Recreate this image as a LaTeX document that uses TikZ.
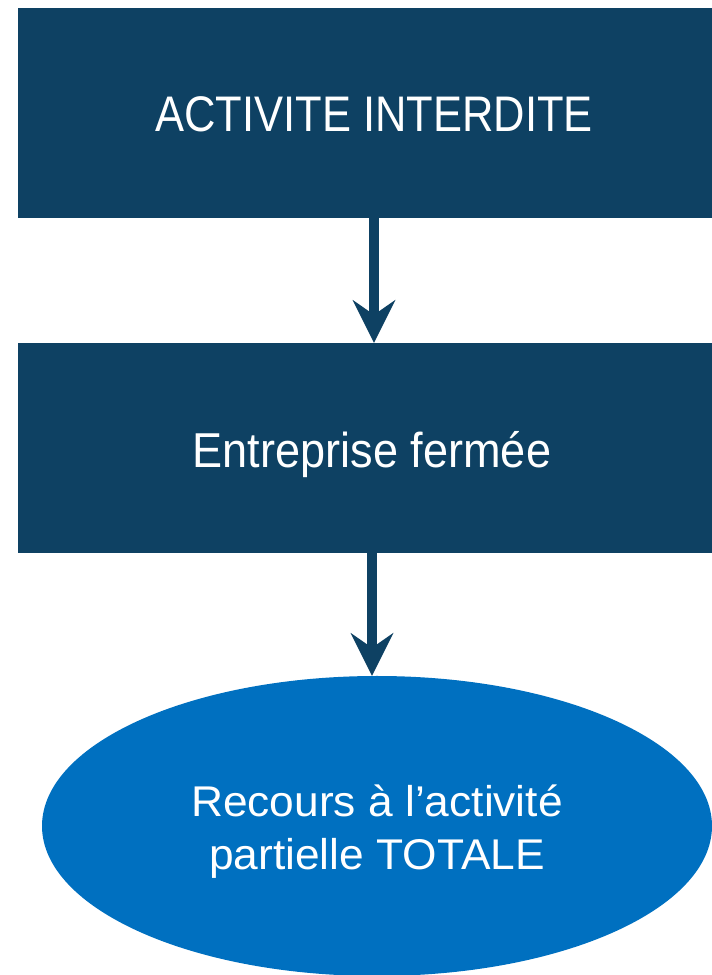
\documentclass[tikz,border=0pt]{standalone}
\usepackage{fontspec}
\setmainfont{Liberation Sans}
\newfontfamily\fonta{Liberation Sans}[FakeStretch=0.87]
\newfontfamily\fontb{Liberation Sans}[FakeStretch=0.92]
\newfontfamily\fontc{Liberation Sans}[FakeStretch=1.03]
\usetikzlibrary{arrows.meta,shapes.geometric,calc}
\definecolor{navy}{HTML}{0E4163}
\definecolor{blu}{HTML}{0070C0}
\begin{document}
\begin{tikzpicture}[x=1pt,y=1pt,
  boxnode/.style={rectangle,fill=navy,inner sep=0pt,minimum height=210pt},
  ellnode/.style={ellipse,fill=blu,inner sep=0pt,minimum width=670pt,minimum height=300pt},
  lbl/.style={anchor=base,text=white,inner sep=0pt},
  arr/.style={draw=navy,line width=9.5pt,-{Stealth[length=43pt,width=43pt,inset=15pt,line width=0pt]}}]
\useasboundingbox (0,0) rectangle (712,975);
\clip (0,0) rectangle (712,975);
\node[boxnode,minimum width=712pt] (r1) at (374,862) {};
\node[boxnode,minimum width=708pt] (r2) at (372,527) {};
\node[ellnode] (e) at (377,149) {};
\node[lbl,font=\fonta\fontsize{50}{60}\selectfont] (t1) at ($(r1.center)+(0,-19)$) {ACTIVITE INTERDITE};
\node[lbl,font=\fontb\fontsize{49}{59}\selectfont] (t2) at ($(r2.center)+(0,-20)$) {Entreprise fermée};
\node[lbl,font=\fontc\fontsize{43}{52}\selectfont] (e1) at ($(e.center)+(0,9)$) {Recours à l’activité};
\node[lbl,font=\fontc\fontsize{43}{52}\selectfont] (e2) at ($(e.center)+(0,-44)$) {partielle TOTALE};
\draw[arr] (r1.south) -- (r1.south |- r2.north);
\draw[arr] (r2.south) -- (r2.south |- e.north);
\end{tikzpicture}
\end{document}
